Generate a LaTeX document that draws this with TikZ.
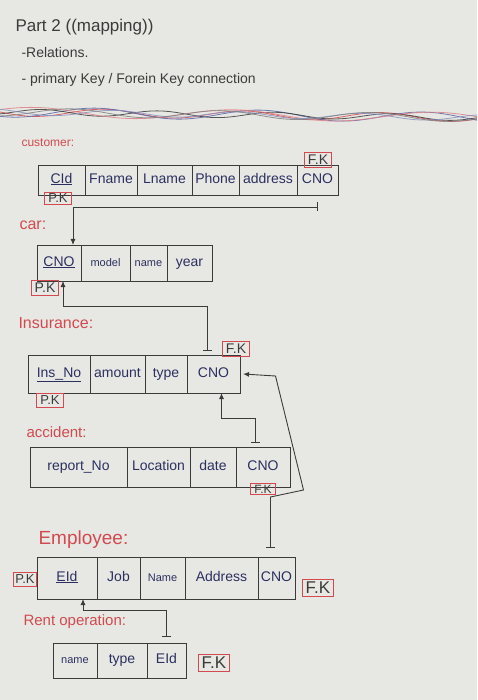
\documentclass[tikz,border=0pt]{standalone}
\usepackage{fontspec}
\setmainfont{Liberation Sans}
\usepackage{xcolor}
\usepackage{tikz}
\usetikzlibrary{positioning,arrows.meta}
\definecolor{paper}{HTML}{E7E8E3}
\definecolor{ink}{HTML}{2C3060}
\definecolor{redink}{HTML}{D24A50}
\definecolor{pencil}{HTML}{3B3B3B}
\definecolor{blueink}{HTML}{5A64A8}

\begin{document}
\begin{tikzpicture}[x=1pt,y=-1pt,
	cell/.style={draw=pencil,line width=0.8pt,inner sep=1pt,outer sep=0pt,text=ink,text height=0.72em,text depth=0.1em,font=\fontsize{14}{16}\selectfont},
	keybox/.style={draw=redink,line width=0.8pt,inner xsep=3.5pt,inner ysep=2.5pt,text=pencil,font=\fontsize{14}{16}\selectfont},
	tname/.style={anchor=west,text=redink,font=\fontsize{15}{17}\selectfont},
	link/.style={draw=pencil,line width=0.9pt,{Bar[width=9pt]}-{Latex[length=6pt,width=5pt]}}]
	\fill[paper] (0,0) rectangle (477,700);
	\useasboundingbox (0,0) rectangle (477,700);
%header
	\node[anchor=west,text=pencil,font=\fontsize{17}{19}\selectfont] at (12,27) (head) {Part 2 ((mapping))};
	\node[anchor=west,text=pencil,font=\fontsize{14}{16}\selectfont] at (18,52) (rel) {-Relations.};
	\node[anchor=west,text=pencil,font=\fontsize{14}{16}\selectfont] at (18,80) (conn) {- primary Key / Forein Key connection};
	\foreach \col/\amp/\fr/\ph in {redink/4/2.6/0, blueink/5/2.2/60, pencil/3/3.1/140, redink!70/5/1.8/210, blueink!70/3/2.9/300, gray/4/2.4/100}
		\draw[\col,line width=0.8pt,opacity=0.85] plot[domain=0:477,samples=140,smooth] (\x,{112+0.012*\x+\amp*sin(\fr*\x+\ph)});
%customer
	\node[tname,font=\fontsize{12}{14}\selectfont] at (18,143) (custlbl) {customer:};
	\node[cell,minimum width=47,minimum height=30,anchor=north west] at (38,165) (cid) {\underline{CId}};
	\node[cell,minimum width=52,minimum height=30,right=0pt of cid] (fname) {Fname};
	\node[cell,minimum width=55,minimum height=30,right=0pt of fname] (lname) {Lname};
	\node[cell,minimum width=47,minimum height=30,right=0pt of lname] (phone) {Phone};
	\node[cell,minimum width=58,minimum height=30,right=0pt of phone] (caddr) {address};
	\node[cell,minimum width=41,minimum height=30,right=0pt of caddr] (ccno) {CNO};
	\node[keybox] at (318,160) (cfk) {F.K};
	\node[keybox,font=\fontsize{13}{15}\selectfont,inner ysep=1.5pt] at (58,198) (cpk) {P.K};
%car
	\node[tname,font=\fontsize{16}{18}\selectfont] at (16,225) (carlbl) {car:};
	\node[cell,minimum width=44,minimum height=36,anchor=north west] at (37,245) (carcno) {\underline{CNO}};
	\node[cell,minimum width=49,minimum height=36,right=0pt of carcno,font=\fontsize{11}{13}\selectfont] (model) {model};
	\node[cell,minimum width=37,minimum height=36,right=0pt of model,font=\fontsize{11}{13}\selectfont] (carname) {name};
	\node[cell,minimum width=45,minimum height=36,right=0pt of carname] (year) {year};
	\node[keybox] at (45,288) (carpk) {P.K};
%insurance
	\node[tname,font=\fontsize{16}{18}\selectfont] at (15,323) (inslbl) {Insurance:};
	\node[cell,minimum width=62,minimum height=38,anchor=north west] at (28,355) (insno) {\underline{Ins\_No}};
	\node[cell,minimum width=55,minimum height=38,right=0pt of insno] (amount) {amount};
	\node[cell,minimum width=42,minimum height=38,right=0pt of amount] (itype) {type};
	\node[cell,minimum width=53,minimum height=38,right=0pt of itype] (icno) {CNO};
	\node[keybox] at (236,349) (ifk) {F.K};
	\node[keybox,font=\fontsize{13}{15}\selectfont] at (50,400) (ipk) {P.K};
%accident
	\node[tname] at (23,432) (acclbl) {accident:};
	\node[cell,minimum width=97,minimum height=40,anchor=north west] at (30,447) (repno) {report\_No};
	\node[cell,minimum width=63,minimum height=40,right=0pt of repno] (loc) {Location};
	\node[cell,minimum width=46,minimum height=40,right=0pt of loc] (adate) {date};
	\node[cell,minimum width=54,minimum height=40,right=0pt of adate] (acno) {CNO};
	\node[keybox,font=\fontsize{12}{14}\selectfont,inner ysep=1.5pt] at (263,489) (afk) {F.K};
%employee
	\node[tname,font=\fontsize{19}{21}\selectfont] at (35,540) (emplbl) {Employee:};
	\node[cell,minimum width=60,minimum height=42,anchor=north west] at (37,557) (eeid) {\underline{EId}};
	\node[cell,minimum width=43,minimum height=42,right=0pt of eeid] (job) {Job};
	\node[cell,minimum width=45,minimum height=42,right=0pt of job,font=\fontsize{11}{13}\selectfont] (ename) {Name};
	\node[cell,minimum width=73,minimum height=42,right=0pt of ename] (eaddr) {Address};
	\node[cell,minimum width=37,minimum height=42,right=0pt of eaddr] (ecno) {CNO};
	\node[keybox,font=\fontsize{13}{15}\selectfont,inner xsep=1.5pt] at (25,579) (epk) {P.K};
	\node[keybox,font=\fontsize{17}{19}\selectfont] at (318,588) (efk) {F.K};
%rent operation
	\node[tname] at (20,622) (rentlbl) {Rent operation:};
	\node[cell,minimum width=44,minimum height=35,anchor=north west,font=\fontsize{11}{13}\selectfont] at (53,643) (rname) {name};
	\node[cell,minimum width=50,minimum height=35,right=0pt of rname] (rtype) {type};
	\node[cell,minimum width=39,minimum height=35,right=0pt of rtype] (reid) {EId};
	\node[keybox,font=\fontsize{17}{19}\selectfont] at (214,663) (rfk) {F.K};
%connections
	\coordinate (t1) at ([yshift=-12pt]ccno.south);
	\coordinate (t2) at ([xshift=-6pt,yshift=4pt]icno.north);
	\coordinate (t3) at ([xshift=-8pt,yshift=4pt]acno.north);
	\coordinate (t4) at ([xshift=-6pt,yshift=9pt]ecno.north);
	\coordinate (t5) at ([yshift=6pt]reid.north);
	\draw[link] (t1) -| ([xshift=14pt]carcno.north);
	\draw[link] (t2) -- ++(0,-45) -| ([xshift=4pt]carcno.south);
	\draw[link] (t3) -- ++(0,-25) -| ([xshift=8pt]icno.south);
	\draw[link] (t4) -- ++(0,-51) -- ++(33,-7) -- ++(-28,-114) -- ([xshift=3pt]icno.east);
	\draw[link] (t5) -- ++(0,-27) -| ([xshift=16pt]eeid.south);
\end{tikzpicture}
\end{document}
